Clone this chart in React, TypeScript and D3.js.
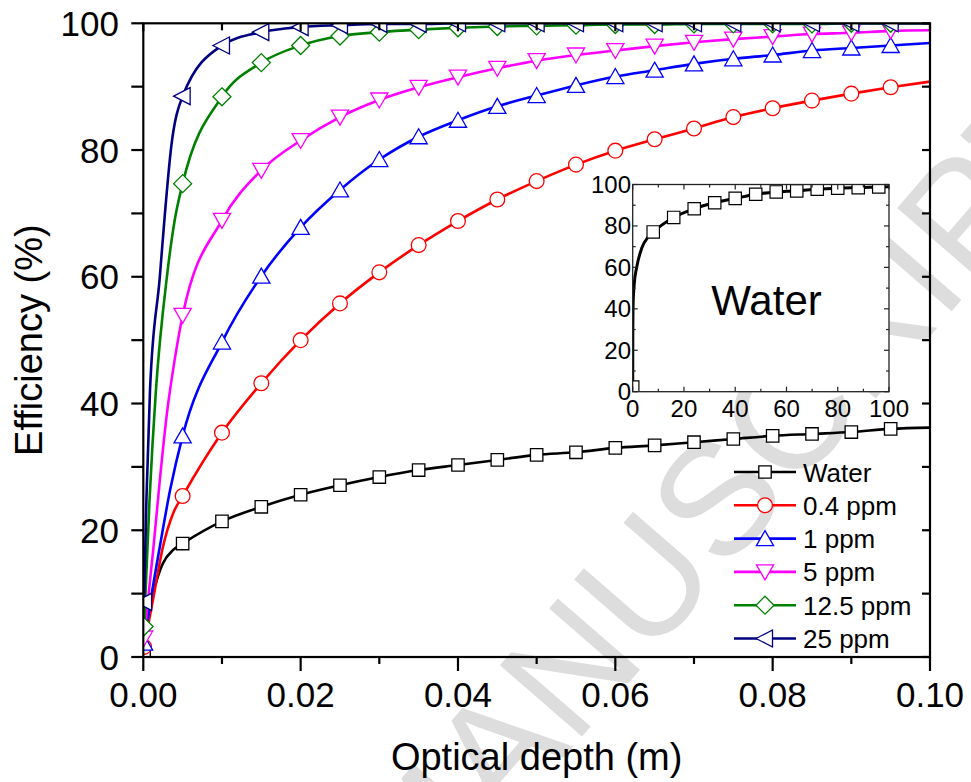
import React from 'react';
import * as d3 from 'd3';

// ---- data ----
const markerDepth = [0.0001, 0.005, 0.01, 0.015, 0.02, 0.025, 0.03, 0.035, 0.04, 0.045, 0.05, 0.055, 0.06, 0.065, 0.07, 0.075, 0.08, 0.085, 0.09, 0.095];

const waterMarks = [0.9, 17.9, 21.4, 23.7, 25.6, 27.1, 28.4, 29.5, 30.3, 31.1, 31.9, 32.3, 33.0, 33.4, 33.9, 34.4, 34.9, 35.2, 35.5, 36.0];
const ppm04Marks = [1.6, 25.4, 35.4, 43.2, 50.0, 55.8, 60.7, 65.0, 68.8, 72.2, 75.1, 77.7, 79.9, 81.7, 83.4, 85.2, 86.6, 87.8, 88.9, 89.9];
const ppm1Marks = [2.2, 34.9, 49.7, 60.1, 67.8, 73.7, 78.5, 82.1, 84.7, 86.9, 88.6, 90.2, 91.6, 92.6, 93.6, 94.4, 95.0, 95.7, 96.1, 96.5];
const ppm5Marks = [3.0, 53.9, 68.9, 76.8, 81.5, 85.2, 87.9, 89.9, 91.5, 92.9, 94.1, 95.0, 95.7, 96.4, 97.0, 97.5, 97.9, 98.3, 98.5, 98.8];
const ppm125Marks = [4.8, 74.7, 88.4, 93.8, 96.5, 98.0, 98.6, 99.0, 99.3, 99.5, 99.6, 99.7, 99.8, 99.8, 99.9, 99.9, 99.9, 99.9, 100, 100];
const ppm25Marks = [8.7, 88.5, 96.5, 98.6, 99.4, 99.7, 99.9, 99.9, 100, 100, 100, 100, 100, 100, 100, 100, 100, 100, 100, 100];

// additional curve samples between the markers (depth, efficiency)
const waterExtra: [number, number][] = [[0.0008, 7.9], [0.0017, 12.1], [0.0025, 14.8], [0.0038, 16.9], [0.1, 36.2]];
const ppm04Extra: [number, number][] = [[0.0013, 9.5], [0.0025, 17.4], [0.0038, 22.7], [0.1, 90.8]];
const ppm1Extra: [number, number][] = [[0.0008, 7.9], [0.0021, 17.4], [0.0034, 26.3], [0.1, 96.9]];
const ppm5Extra: [number, number][] = [[0.0013, 17.4], [0.0021, 27.9], [0.003, 38.4], [0.004, 47.0], [0.1, 98.9]];
const ppm125Extra: [number, number][] = [[0.0008, 25], [0.0016, 42], [0.003, 60], [0.004, 69], [0.1, 100]];
const ppm25Extra: [number, number][] = [[0.0004, 25], [0.00085, 42], [0.0021, 60], [0.00275, 70], [0.0035, 80], [0.1, 100]];

const seriesNames = ['Water', '0.4 ppm', '1 ppm', '5 ppm', '12.5 ppm', '25 ppm'];
const seriesColors = ['#000000', '#ff0000', '#0000ff', '#ff00ff', '#008000', '#000080'];
const seriesSymbols = ['square', 'circle', 'triUp', 'triDown', 'diamond', 'triLeft'];

const xTicks = [0, 0.02, 0.04, 0.06, 0.08, 0.1];
const xTickLabels = ['0.00', '0.02', '0.04', '0.06', '0.08', '0.10'];
const xMinorTicks = [0.01, 0.03, 0.05, 0.07, 0.09];
const yTicks = [0, 20, 40, 60, 80, 100];
const yMinorTicks = [10, 30, 50, 70, 90];

// inset: water over a long path (m)
const insetDepth = [0.0005, 8, 16, 24, 32, 40, 48, 56, 64, 72, 80, 88, 96];
const insetMarks = [2.2, 77.1, 84.1, 88.3, 91.2, 93.3, 95.3, 96.4, 96.9, 97.7, 98.2, 98.5, 98.8];
const insetExtra: [number, number][] = [[0.05, 30], [0.2, 44], [0.6, 52], [1.6, 60.3], [3.5, 69.2], [6.1, 74.8], [100, 98.9]];
const insetTicks = [0, 20, 40, 60, 80, 100];
const insetMinor = [10, 30, 50, 70, 90];

const FONT = '"Liberation Sans", Arial, Helvetica, sans-serif';

function symbolPath(kind: string, x: number, y: number): string {
  switch (kind) {
    case 'square': {
      const h = 6.2;
      return `M${x - h},${y - h}H${x + h}V${y + h}H${x - h}Z`;
    }
    case 'circle': {
      const r = 7.4;
      return `M${x + r},${y}A${r},${r} 0 1,1 ${x - r},${y}A${r},${r} 0 1,1 ${x + r},${y}Z`;
    }
    case 'triUp':
      return `M${x},${y - 8}L${x + 8.6},${y + 7}L${x - 8.6},${y + 7}Z`;
    case 'triDown':
      return `M${x},${y + 8}L${x + 8.6},${y - 7}L${x - 8.6},${y - 7}Z`;
    case 'diamond':
      return `M${x},${y - 9}L${x + 9},${y}L${x},${y + 9}L${x - 9},${y}Z`;
    case 'triLeft':
      return `M${x - 9},${y}L${x + 7.5},${y - 8.5}L${x + 7.5},${y + 8.5}Z`;
    default:
      return '';
  }
}

export default function App() {
  const left = 143.3, right = 930, top = 23.3, bottom = 657;
  const x = d3.scaleLinear().domain([0, 0.1]).range([left, right]);
  const y = d3.scaleLinear().domain([0, 100]).range([bottom, top]);

  const allMarks = [waterMarks, ppm04Marks, ppm1Marks, ppm5Marks, ppm125Marks, ppm25Marks];
  const allExtra = [waterExtra, ppm04Extra, ppm1Extra, ppm5Extra, ppm125Extra, ppm25Extra];

  const line = d3.line<[number, number]>()
    .x(d => x(d[0]))
    .y(d => y(d[1]))
    .curve(d3.curveMonotoneX);

  const series = allMarks.map((marks, i) => {
    const pts: [number, number][] = markerDepth.map((d, j) => [d, marks[j]] as [number, number]).concat(allExtra[i]);
    pts.sort((a, b) => a[0] - b[0]);
    return { name: seriesNames[i], color: seriesColors[i], symbol: seriesSymbols[i], pts, marks };
  });

  // inset scales
  const il = 632.7, ir = 889, it = 184.5, ib = 391.7;
  const ix = d3.scaleLinear().domain([0, 100]).range([il, ir]);
  const iy = d3.scaleLinear().domain([0, 100]).range([ib, it]);
  const insetLine = d3.line<[number, number]>()
    .x(d => ix(d[0]))
    .y(d => iy(d[1]))
    .curve(d3.curveMonotoneX);
  const insetPts: [number, number][] = insetDepth.map((d, j) => [d, insetMarks[j]] as [number, number]).concat(insetExtra);
  insetPts.sort((a, b) => a[0] - b[0]);

  const legendX0 = 734, legendX1 = 796, legendY0 = 472, legendDy = 33.3;

  return (
    <svg width={971} height={782} style={{ display: 'block', position: 'absolute', left: 0, top: 0, background: '#fff' }}
      fontFamily={FONT}>
      <defs>
        <clipPath id="plotClip">
          <rect x={left} y={top} width={right - left} height={bottom - top} />
        </clipPath>
        <clipPath id="insetClip">
          <rect x={il} y={it} width={ir - il} height={ib - it} />
        </clipPath>
      </defs>
      <rect x={0} y={0} width={971} height={782} fill="#fff" />

      {/* watermark */}
      <text x={0} y={0} fontSize={158} fill="#dddddd" fontFamily={FONT}
        transform="translate(418,925) rotate(-49)">MANUSCRIPT</text>

      {/* series lines and markers */}
      <g clipPath="url(#plotClip)">
        {series.map((s, i) => (
          <g key={i}>
            <path d={line(s.pts) || ''} fill="none" stroke={s.color} strokeWidth={2.6} />
            {s.marks.map((v, j) => (
              <path key={j} d={symbolPath(s.symbol, x(markerDepth[j]), y(v))} fill="#fff" stroke={s.color} strokeWidth={1.3} />
            ))}
          </g>
        ))}
      </g>

      {/* frame */}
      <rect x={left} y={top} width={right - left} height={bottom - top} fill="none" stroke="#000" strokeWidth={2.2} />

      {/* bottom axis */}
      {xTicks.map((t, i) => (
        <g key={'xt' + i}>
          <line x1={x(t)} x2={x(t)} y1={bottom} y2={bottom + 14} stroke="#000" strokeWidth={2.2} />
          <line x1={x(t)} x2={x(t)} y1={top} y2={top + 8} stroke="#000" strokeWidth={2.2} />
          <text x={x(t)} y={707} fontSize={35} textAnchor="middle" fill="#000">{xTickLabels[i]}</text>
        </g>
      ))}
      {xMinorTicks.map((t, i) => (
        <g key={'xm' + i}>
          <line x1={x(t)} x2={x(t)} y1={bottom} y2={bottom + 7} stroke="#000" strokeWidth={2.2} />
          <line x1={x(t)} x2={x(t)} y1={top} y2={top + 7} stroke="#000" strokeWidth={2.2} />
        </g>
      ))}

      {/* left axis */}
      {yTicks.map((t, i) => (
        <g key={'yt' + i}>
          <line x1={left - 12} x2={left} y1={y(t)} y2={y(t)} stroke="#000" strokeWidth={2.2} />
          <line x1={right - 8} x2={right} y1={y(t)} y2={y(t)} stroke="#000" strokeWidth={2.2} />
          <text x={119} y={y(t) + 12.5} fontSize={35} textAnchor="end" fill="#000">{t}</text>
        </g>
      ))}
      {yMinorTicks.map((t, i) => (
        <g key={'ym' + i}>
          <line x1={left - 12} x2={left} y1={y(t)} y2={y(t)} stroke="#000" strokeWidth={2.2} />
          <line x1={right - 8} x2={right} y1={y(t)} y2={y(t)} stroke="#000" strokeWidth={2.2} />
        </g>
      ))}

      {/* axis titles */}
      <text x={(left + right) / 2} y={770} fontSize={38} textAnchor="middle" fill="#000">Optical depth (m)</text>
      <text transform={`translate(42,${(top + bottom) / 2}) rotate(-90)`} fontSize={38} textAnchor="middle" fill="#000">Efficiency (%)</text>

      {/* legend */}
      {series.map((s, i) => {
        const ly = legendY0 + i * legendDy;
        return (
          <g key={'lg' + i}>
            <line x1={legendX0} x2={legendX1} y1={ly} y2={ly} stroke={s.color} strokeWidth={2.6} />
            <path d={symbolPath(s.symbol, (legendX0 + legendX1) / 2, ly)} fill="#fff" stroke={s.color} strokeWidth={1.3} />
            <text x={803} y={ly + 9.5} fontSize={26} fill="#000">{s.name}</text>
          </g>
        );
      })}

      {/* inset */}
      <rect x={il} y={it} width={ir - il} height={ib - it} fill="#fff" />
      <g clipPath="url(#insetClip)">
        <path d={insetLine(insetPts) || ''} fill="none" stroke="#000" strokeWidth={3} />
        {insetMarks.map((v, j) => (
          <path key={j} d={symbolPath('square', ix(insetDepth[j]), iy(v))} fill="#fff" stroke="#000" strokeWidth={1.2} />
        ))}
      </g>
      <rect x={il} y={it} width={ir - il} height={ib - it} fill="none" stroke="#222" strokeWidth={1.3} />
      {insetTicks.map((t, i) => (
        <g key={'it' + i}>
          <line x1={ix(t)} x2={ix(t)} y1={ib} y2={ib - 5} stroke="#222" strokeWidth={1.2} />
          <line x1={ix(t)} x2={ix(t)} y1={it} y2={it + 5} stroke="#222" strokeWidth={1.2} />
          <line x1={il} x2={il + 5} y1={iy(t)} y2={iy(t)} stroke="#222" strokeWidth={1.2} />
          <line x1={ir} x2={ir - 5} y1={iy(t)} y2={iy(t)} stroke="#222" strokeWidth={1.2} />
          <text x={ix(t)} y={417} fontSize={24} textAnchor="middle" fill="#000">{t}</text>
          <text x={631} y={iy(t) + 8.5} fontSize={24} textAnchor="end" fill="#000">{t}</text>
        </g>
      ))}
      {insetMinor.map((t, i) => (
        <g key={'im' + i}>
          <line x1={ix(t)} x2={ix(t)} y1={ib} y2={ib - 3} stroke="#222" strokeWidth={1.2} />
          <line x1={ix(t)} x2={ix(t)} y1={it} y2={it + 3} stroke="#222" strokeWidth={1.2} />
          <line x1={il} x2={il + 3} y1={iy(t)} y2={iy(t)} stroke="#222" strokeWidth={1.2} />
          <line x1={ir} x2={ir - 3} y1={iy(t)} y2={iy(t)} stroke="#222" strokeWidth={1.2} />
        </g>
      ))}
      <text x={766.5} y={315} fontSize={42} textAnchor="middle" fill="#000">Water</text>
    </svg>
  );
}
